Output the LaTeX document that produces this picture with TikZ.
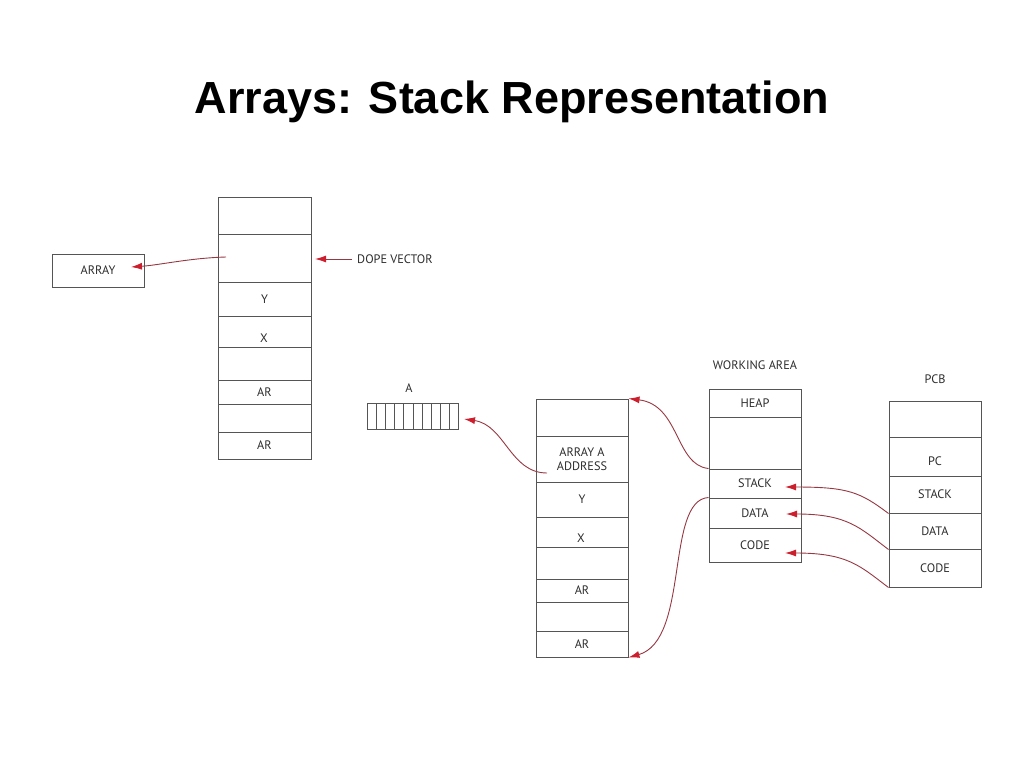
\documentclass[tikz,border=0pt]{standalone}
\usepackage{fontspec}
\setmainfont{Liberation Sans}
\newfontfamily\lblfont{PT Sans}
\usetikzlibrary{arrows.meta,calc}
\definecolor{boxgray}{RGB}{85,85,85}
\definecolor{txtgray}{RGB}{45,45,45}
\definecolor{arrline}{RGB}{150,55,65}
\definecolor{arrtip}{RGB}{205,30,45}
\tikzset{
  cell/.style={draw=boxgray, line width=1pt, rectangle, inner sep=0pt, minimum width=92pt,
    font=\lblfont\fontsize{12.3}{14.5}\selectfont, text=txtgray, align=center},
  lbl/.style={inner sep=0pt, font=\lblfont\fontsize{12.3}{14.5}\selectfont, text=txtgray},
  ptr/.style={draw=arrline, line width=0.9pt, -{Latex[length=11pt,width=7pt,color=arrtip]}},
}
\begin{document}
\begin{tikzpicture}[x=1pt,y=-1pt]
\useasboundingbox (0,0) rectangle (1024,768);
\node[font=\bfseries\fontsize{45}{50}\selectfont] (title) at (512,102) {Arrays: Stack Representation};

% left stack
\node[cell, minimum width=93pt, minimum height=37pt] (L1) at (264.5,215.5) {};
\node[cell, minimum width=93pt, minimum height=48pt] (L2) at (264.5,258) {};
\node[cell, minimum width=93pt, minimum height=34pt] (L3) at (264.5,299) {Y};
\node[cell, minimum width=93pt, minimum height=31pt] (L4) at (264.5,331.5) {};
\node[lbl] (L4t) at (264,338) {X};
\node[cell, minimum width=93pt, minimum height=33pt] (L5) at (264.5,363.5) {};
\node[cell, minimum width=93pt, minimum height=24pt] (L6) at (264.5,392) {AR};
\node[cell, minimum width=93pt, minimum height=28pt] (L7) at (264.5,418) {};
\node[cell, minimum width=93pt, minimum height=27pt] (L8) at (264.5,445.5) {AR};

\node[cell, minimum height=33pt] (arr) at (98,270.5) {ARRAY};
\node[lbl, anchor=west] (dope) at (357,259) {DOPE VECTOR};
\coordinate (Lsrc) at (226,257);
\coordinate (Ltip) at (131,267);
\draw[ptr] (Lsrc) .. controls (190,258) and (160,265) .. (Ltip);
\coordinate (dt) at (352,259);
\coordinate (dtip) at (315,259);
\draw[ptr] (dt) -- (dtip);

% array A
\node[lbl] (Alab) at (409,388) {A};
\foreach \i in {0,...,9}{
  \node[draw=boxgray, line width=0.9pt, inner sep=0pt, minimum width=9.1pt, minimum height=26pt] (A\i) at (372.05+9.1*\i,416) {};
}

% middle stack
\node[cell, minimum height=37pt] (M1) at (582,417.5) {};
\node[cell, minimum height=46pt] (M2) at (582,459) {ARRAY A\\[-1pt]ADDRESS};
\node[cell, minimum height=35pt] (M3) at (582,499.5) {Y};
\node[cell, minimum height=30pt] (M4) at (582,532) {};
\node[lbl] (M4t) at (581,538) {X};
\node[cell, minimum height=32pt] (M5) at (582,563) {};
\node[cell, minimum height=23pt] (M6) at (582,590.5) {AR};
\node[cell, minimum height=29pt] (M7) at (582,616.5) {};
\node[cell, minimum height=26pt] (M8) at (582,644) {AR};

\coordinate (Msrc) at (547,473);
\coordinate (Atip) at (464,419);
\draw[ptr] (Msrc) .. controls (510,473) and (505,425) .. (Atip);

% working area
\node[lbl] (wlab) at (755,365) {WORKING AREA};
\node[cell, minimum height=28pt] (W1) at (755,403) {HEAP};
\node[cell, minimum height=52pt] (W2) at (755,443) {};
\node[cell, minimum height=29pt] (W3) at (755,483.5) {STACK};
\node[cell, minimum height=30pt] (W4) at (755,513) {DATA};
\node[cell, minimum height=34pt] (W5) at (755,545) {CODE};

% PCB
\node[lbl] (plab) at (935,379) {PCB};
\node[cell, minimum height=36pt] (P1) at (935,419) {};
\node[cell, minimum height=39pt] (P2) at (935,456.5) {};
\node[lbl] (P2t) at (935,461) {PC};
\node[cell, minimum height=37pt] (P3) at (935,494.5) {STACK};
\node[cell, minimum height=36pt] (P4) at (935,531) {DATA};
\node[cell, minimum height=38pt] (P5) at (935,568) {CODE};

\coordinate (tS) at (785,487);
\coordinate (tD) at (786,514);
\coordinate (tC) at (785,553);
\draw[ptr] (P3.south west) .. controls (860,492) and (848,487) .. (tS);
\draw[ptr] (P4.south west) .. controls (860,528) and (848,514) .. (tD);
\draw[ptr] (P5.south west) .. controls (860,566) and (848,553) .. (tC);

\draw[ptr] (W3.north west) .. controls (675,465) and (680,405) .. (M1.north east);
\draw[ptr] (W4.north west) .. controls (665,500) and (690,640) .. (M8.south east);
\end{tikzpicture}
\end{document}
